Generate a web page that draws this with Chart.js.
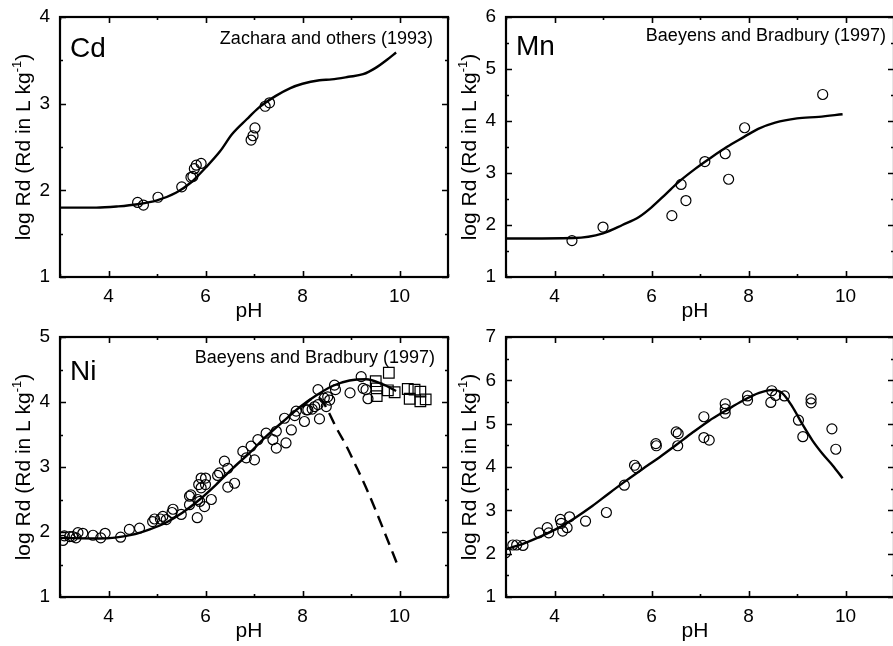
<!DOCTYPE html>
<html>
<head>
<meta charset="utf-8">
<script src="https://cdn.jsdelivr.net/npm/chart.js@4.4.1/dist/chart.umd.min.js"></script>
<style>
  html, body { margin: 0; padding: 0; background: #fff; }
  #wrap { position: relative; width: 893px; height: 646px; overflow: hidden; background: #fff; }
  #wrap canvas { position: absolute; }
</style>
</head>
<body>
<div id="wrap">
  <canvas id="cd" width="450" height="323" style="left:0px;top:0px"></canvas>
  <canvas id="mn" width="450" height="323" style="left:446px;top:0px"></canvas>
  <canvas id="ni" width="450" height="323" style="left:0px;top:320px"></canvas>
  <canvas id="p4" width="450" height="323" style="left:446px;top:320px"></canvas>
</div>
<script>
// ---- Cd (Zachara and others, 1993) ----
const cdPH      = [4.60, 4.72, 5.02, 5.51, 5.70, 5.74, 5.77, 5.81, 5.91, 6.94, 6.98, 7.02, 7.23, 7.32];
const cdLogRd   = [1.86, 1.83, 1.92, 2.04, 2.15, 2.16, 2.25, 2.29, 2.31, 2.58, 2.63, 2.72, 2.97, 3.01];
const cdModelPH = [3.0, 3.75, 4.2, 4.6, 5.0, 5.4, 5.7, 6.0, 6.3, 6.55, 6.85, 7.1, 7.45, 7.75, 8.0, 8.35, 8.6, 8.95, 9.25, 9.5, 9.75, 9.93];
const cdModel   = [1.80, 1.80, 1.815, 1.84, 1.885, 1.975, 2.09, 2.26, 2.45, 2.65, 2.82, 2.955, 3.09, 3.18, 3.23, 3.27, 3.28, 3.31, 3.34, 3.41, 3.51, 3.59];

// ---- Mn (Baeyens and Bradbury, 1997) ----
const mnPH      = [4.36, 5.00, 6.42, 6.61, 6.71, 7.10, 7.52, 7.59, 7.92, 9.53];
const mnLogRd   = [1.70, 1.96, 2.18, 2.78, 2.47, 3.22, 3.37, 2.88, 3.87, 4.51];
const mnModelPH = [3.0, 4.4, 5.0, 5.4, 5.75, 6.0, 6.3, 6.55, 6.9, 7.2, 7.55, 7.9, 8.2, 8.55, 9.0, 9.45, 9.94];
const mnModel   = [1.74, 1.75, 1.84, 2.00, 2.16, 2.34, 2.60, 2.82, 3.08, 3.28, 3.50, 3.69, 3.85, 3.97, 4.05, 4.08, 4.13];

// ---- Ni (Baeyens and Bradbury, 1997) ----
const niPH = [3.06, 3.09, 3.20, 3.26, 3.33, 3.37, 3.47, 3.68, 3.84, 3.93, 4.25, 4.43, 4.64, 4.91, 4.95, 5.07, 5.12, 5.19,
  5.31, 5.33, 5.50, 5.67, 5.70, 5.67, 5.83, 5.86, 5.91, 5.88, 5.84, 5.91, 6.00, 6.00, 5.98, 6.12, 6.25, 6.29, 6.39, 6.46,
  6.60, 6.46, 6.77, 6.84, 6.94, 7.01, 7.08, 7.25, 7.39, 7.46, 7.46, 7.66, 7.77, 7.63, 7.84, 7.87, 8.04, 8.11, 8.25, 8.08,
  8.20, 8.32, 8.35, 8.32, 8.45, 8.52, 8.56, 8.49, 8.66, 8.68, 8.98, 9.21, 9.25, 9.31, 9.35];
const niLogRd = [1.87, 1.94, 1.93, 1.93, 1.91, 1.99, 1.98, 1.95, 1.91, 1.98, 1.92, 2.04, 2.06, 2.16, 2.20, 2.20, 2.24, 2.19,
  2.30, 2.35, 2.27, 2.55, 2.57, 2.42, 2.22, 2.73, 2.83, 2.47, 2.50, 2.68, 2.73, 2.83, 2.39, 2.50, 2.87, 2.91, 3.09, 2.98,
  2.75, 2.69, 3.24, 3.14, 3.32, 3.11, 3.42, 3.52, 3.42, 3.55, 3.29, 3.37, 3.57, 3.75, 3.79, 3.86, 3.70, 3.88, 3.93, 3.88,
  3.89, 3.96, 3.74, 4.19, 4.06, 4.08, 4.03, 3.93, 4.26, 4.19, 4.14, 4.39, 4.21, 4.19, 4.05];
const niSqPH    = [9.51, 9.53, 9.53, 9.78, 9.76, 9.90, 10.17, 10.21, 10.31, 10.43, 10.43, 10.54];
const niSqLogRd = [4.32, 4.21, 4.09, 4.45, 4.18, 4.15, 4.20, 4.05, 4.19, 4.16, 4.01, 4.04];
const niModelPH = [3.0, 3.8, 4.5, 4.85, 5.2, 5.53, 5.88, 6.22, 6.56, 6.9, 7.25, 7.6, 7.94, 8.28, 8.63, 8.97, 9.31, 9.66, 9.93];
const niModel   = [1.91, 1.90, 1.96, 2.04, 2.15, 2.30, 2.50, 2.73, 2.98, 3.21, 3.47, 3.70, 3.92, 4.10, 4.25, 4.33, 4.35, 4.27, 4.17];
const niAltPH   = [8.0, 8.2, 8.35, 8.5, 8.7, 8.9, 9.1, 9.3, 9.5, 9.7, 9.94];
const niAlt     = [3.93, 4.05, 4.06, 3.90, 3.60, 3.33, 3.02, 2.70, 2.35, 1.98, 1.53];

// ---- fourth panel ----
const p4PH = [2.99, 3.14, 3.22, 3.35, 3.68, 3.85, 3.88, 4.12, 4.14, 4.17, 4.26, 4.31, 4.64, 5.07, 5.44, 5.65, 5.69, 6.09,
  6.10, 6.51, 6.55, 6.54, 7.08, 7.08, 7.19, 7.52, 7.52, 7.52, 7.98, 7.98, 8.48, 8.46, 8.56, 8.74, 9.03, 9.12, 9.29, 9.29, 9.72, 9.80];
const p4LogRd = [2.02, 2.20, 2.20, 2.19, 2.48, 2.60, 2.48, 2.79, 2.70, 2.52, 2.60, 2.85, 2.75, 2.95, 3.58, 4.04, 3.98, 4.54,
  4.49, 4.81, 4.77, 4.49, 5.16, 4.68, 4.62, 5.46, 5.34, 5.24, 5.64, 5.54, 5.76, 5.49, 5.65, 5.64, 5.08, 4.70, 5.57, 5.48, 4.88, 4.41];
const p4ModelPH = [3.0, 3.4, 3.74, 4.09, 4.43, 4.78, 5.12, 5.47, 5.81, 6.16, 6.5, 6.84, 7.19, 7.53, 7.88, 8.22, 8.5, 8.7, 8.9, 9.12, 9.32, 9.53, 9.74, 9.94];
const p4Model   = [2.10, 2.25, 2.41, 2.60, 2.83, 3.10, 3.39, 3.68, 3.95, 4.22, 4.50, 4.79, 5.07, 5.30, 5.53, 5.71, 5.78, 5.70, 5.40, 4.97, 4.61, 4.30, 4.03, 3.74];

const FONT = 'Liberation Sans, Arial, Helvetica, sans-serif';
const pts = (xs, ys) => xs.map((x, i) => ({ x, y: ys[i] }));

function pointSet(xs, ys, style, radius) {
  return {
    type: 'scatter', data: pts(xs, ys), showLine: false,
    pointStyle: style || 'circle', pointRadius: radius || 5, pointHoverRadius: radius || 5,
    borderColor: '#000', backgroundColor: 'rgba(0,0,0,0)', pointBorderWidth: 1.2, order: 2
  };
}
function curveSet(xs, ys, dash) {
  return {
    type: 'line', data: pts(xs, ys), showLine: true, pointRadius: 0,
    borderColor: '#000', borderWidth: 2.4, borderDash: dash || [], fill: false,
    cubicInterpolationMode: 'monotone', order: 1
  };
}

// Frame, inward tick marks, panel labels and axis titles
const decor = {
  id: 'decor',
  afterDraw(chart, args, o) {
    const { ctx, chartArea: a, scales: { x, y } } = chart;
    ctx.save();
    ctx.strokeStyle = '#000';
    ctx.fillStyle = '#000';
    ctx.lineWidth = 1.6;
    ctx.beginPath();
    x.ticks.forEach(t => {
      const px = Math.round(x.getPixelForValue(t.value)) + 0.5;
      const len = (Math.abs(t.value % 2) < 1e-6) ? 6 : 3;
      ctx.moveTo(px, a.bottom); ctx.lineTo(px, a.bottom - len);
      ctx.moveTo(px, a.top); ctx.lineTo(px, a.top + len);
    });
    y.ticks.forEach(t => {
      const py = Math.round(y.getPixelForValue(t.value)) + 0.5;
      const len = (Math.abs(t.value - Math.round(t.value)) < 1e-6) ? 6 : 3;
      ctx.moveTo(a.left, py); ctx.lineTo(a.left + len, py);
      ctx.moveTo(a.right, py); ctx.lineTo(a.right - len, py);
    });
    ctx.stroke();
    ctx.lineWidth = 2.2;
    ctx.strokeRect(a.left, a.top, a.right - a.left, a.bottom - a.top);

    // element symbol and data source
    ctx.textBaseline = 'middle';
    if (o.element) {
      ctx.font = '28px ' + FONT;
      ctx.textAlign = 'left';
      ctx.fillText(o.element, a.left + 10, a.top + o.elementDy);
    }
    if (o.source) {
      ctx.font = '18px ' + FONT;
      ctx.textAlign = 'right';
      ctx.fillText(o.source, a.right - o.sourceDx, a.top + o.sourceDy);
    }

    // x title
    ctx.font = '21px ' + FONT;
    ctx.textAlign = 'center';
    ctx.textBaseline = 'alphabetic';
    ctx.fillText('pH', (a.left + a.right) / 2 - 5, a.bottom + 40);

    // y title with superscript
    const main = 'log Rd (Rd in L kg', sup = '-1', tail = ')';
    ctx.font = '21px ' + FONT;
    const w1 = ctx.measureText(main).width, w3 = ctx.measureText(tail).width;
    ctx.font = '13px ' + FONT;
    const w2 = ctx.measureText(sup).width;
    const total = w1 + w2 + w3;
    ctx.translate(24, (a.top + a.bottom) / 2);
    ctx.rotate(-Math.PI / 2);
    ctx.textAlign = 'left';
    ctx.textBaseline = 'middle';
    let sx = -total / 2;
    ctx.font = '21px ' + FONT;
    ctx.fillText(main, sx, 0); sx += w1;
    ctx.font = '13px ' + FONT;
    ctx.fillText(sup, sx, -7); sx += w2;
    ctx.font = '21px ' + FONT;
    ctx.fillText(tail, sx, 0);
    ctx.restore();
  }
};

// fixed axis boxes so every panel shares the same plot geometry
function fixBox(s, w, h) {
  if (w !== undefined) s.width = w;
  if (h !== undefined) s.height = h;
  s.paddingLeft = 0; s.paddingRight = 0; s.paddingTop = 0; s.paddingBottom = 0;
}

function makePanel(id, datasets, yMax, deco) {
  new Chart(document.getElementById(id), {
    type: 'scatter',
    data: { datasets },
    options: {
      responsive: false, animation: false, devicePixelRatio: 1,
      events: [],
      layout: { autoPadding: false, padding: { top: 17, right: 2, left: 0, bottom: 0 } },
      plugins: { legend: { display: false }, tooltip: { enabled: false }, decor: deco },
      scales: {
        x: {
          type: 'linear', min: 3, max: 11,
          afterFit(s) { fixBox(s, undefined, 46); },
          grid: { display: false, drawTicks: false }, border: { display: false },
          ticks: {
            stepSize: 1, autoSkip: false, maxRotation: 0, padding: 8, color: '#000',
            font: { family: FONT, size: 19 },
            callback: v => (v % 2 === 0 && v >= 4 && v <= 10) ? String(v) : ''
          }
        },
        y: {
          type: 'linear', min: 1, max: yMax,
          afterFit(s) { fixBox(s, 60, undefined); },
          grid: { display: false, drawTicks: false }, border: { display: false },
          ticks: {
            stepSize: 0.5, autoSkip: false, padding: 10, color: '#000',
            font: { family: FONT, size: 19 },
            callback: v => (Math.abs(v - Math.round(v)) < 1e-6) ? String(Math.round(v)) : ''
          }
        }
      }
    },
    plugins: [decor]
  });
}

makePanel('cd', [curveSet(cdModelPH, cdModel), pointSet(cdPH, cdLogRd)], 4,
  { element: 'Cd', elementDy: 32, source: 'Zachara and others (1993)', sourceDx: 15, sourceDy: 22 });
makePanel('mn', [curveSet(mnModelPH, mnModel), pointSet(mnPH, mnLogRd)], 6,
  { element: 'Mn', elementDy: 30, source: 'Baeyens and Bradbury (1997)', sourceDx: 8, sourceDy: 19 });
makePanel('ni', [curveSet(niModelPH, niModel), curveSet(niAltPH, niAlt, [12, 7]),
  pointSet(niPH, niLogRd), pointSet(niSqPH, niSqLogRd, 'rect', 7.5)], 5,
  { element: 'Ni', elementDy: 35, source: 'Baeyens and Bradbury (1997)', sourceDx: 13, sourceDy: 21 });
makePanel('p4', [curveSet(p4ModelPH, p4Model), pointSet(p4PH, p4LogRd)], 7, {});
</script>
</body>
</html>
